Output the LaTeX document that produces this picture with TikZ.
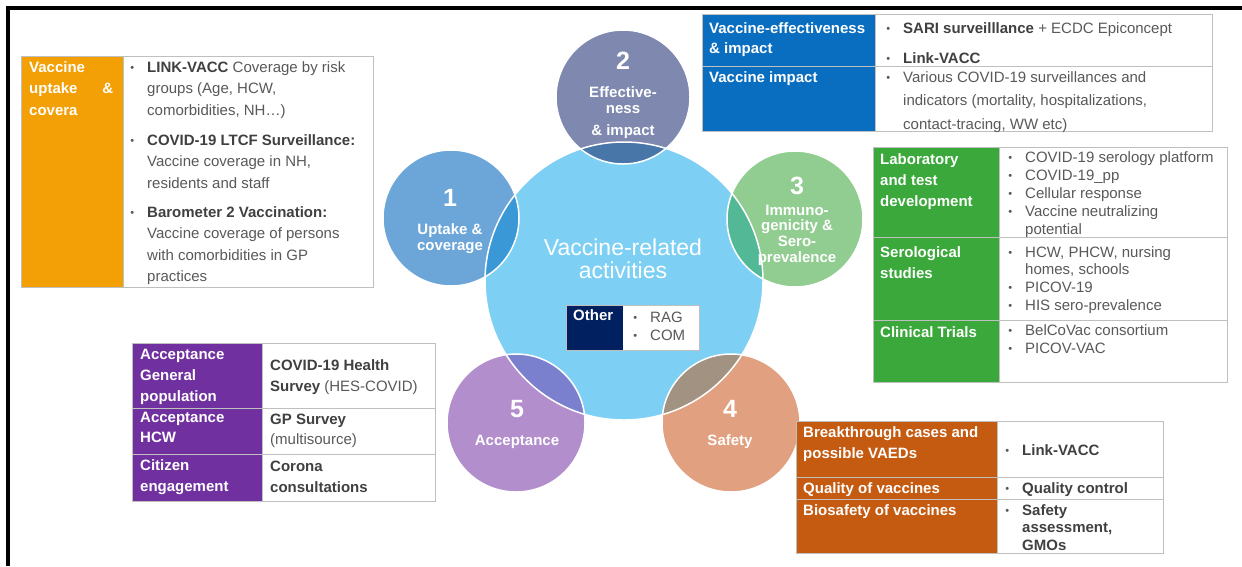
\documentclass[tikz,border=0pt]{standalone}
\usepackage{fontspec}
\setmainfont{Liberation Sans}
\definecolor{ucorange}{RGB}{242,160,5}
\definecolor{ucblue}{RGB}{10,110,192}
\definecolor{ucgreen}{RGB}{58,168,58}
\definecolor{ucpurple}{RGB}{112,48,160}
\definecolor{ucred}{RGB}{197,90,17}
\definecolor{ucnavy}{RGB}{0,32,96}
\definecolor{gridgray}{RGB}{191,191,191}
\definecolor{txtgray}{RGB}{89,89,89}
\definecolor{boldgray}{RGB}{64,64,64}
\definecolor{cmid}{RGB}{125,208,243}
\definecolor{cone}{RGB}{108,165,216}
\definecolor{conex}{RGB}{58,152,214}
\definecolor{ctwo}{RGB}{127,137,176}
\definecolor{ctwox}{RGB}{72,118,168}
\definecolor{cthree}{RGB}{145,205,145}
\definecolor{cthreex}{RGB}{82,184,150}
\definecolor{cfour}{RGB}{225,160,128}
\definecolor{cfourx}{RGB}{162,146,130}
\definecolor{cfive}{RGB}{178,142,205}
\definecolor{cfivex}{RGB}{122,128,205}
\newcommand\bul{\makebox[0pt][r]{\raisebox{1pt}{\fontsize{11}{11}\selectfont\textbullet}\hspace{13pt}}}
\newcommand\bt[1]{{\bfseries\color{boldgray}#1}}
\newcommand\fs[1]{\fontsize{15}{#1}\selectfont}
\newcommand\tstrut{\rule{0pt}{11pt}}
\begin{document}
\begin{tikzpicture}[x=1pt,y=-1pt,
  hd/.style={anchor=north west, inner sep=0pt, align=left, text=white, font=\fs{21}\bfseries, execute at begin node=\tstrut},
  bd/.style={anchor=north west, inner sep=0pt, align=left, text=txtgray, font=\fs{21.5}, execute at begin node=\tstrut},
  cl/.style={anchor=base, inner sep=0pt, text=white, font=\fs{16}\bfseries},
  num/.style={anchor=base, inner sep=0pt, text=white, font=\fontsize{25}{25}\selectfont\bfseries},
  gridline/.style={draw=gridgray, line width=1pt},
  ring/.style={draw=white, line width=1.5pt}]
\useasboundingbox (0,0) rectangle (1242,566);
\fill[white] (0,0) rectangle (1242,566);
% frame
\coordinate (fA) at (8,566);
\coordinate (fB) at (8,8);
\coordinate (fC) at (1242,8);
\draw[line width=3.5pt] (fA) -- (fB) -- (fC);

% ---------- circles ----------
\coordinate (cM) at (624,281);
\coordinate (c1) at (451,218);
\coordinate (c2) at (623,97);
\coordinate (c3) at (795,219);
\coordinate (c4) at (731,423);
\coordinate (c5) at (516,423);
\fill[cmid] (cM) circle[radius=139pt];
\fill[cone] (c1) circle[radius=68pt];
\fill[ctwo] (c2) circle[radius=67pt];
\fill[cthree] (c3) circle[radius=68pt];
\fill[cfour] (c4) circle[radius=69pt];
\fill[cfive] (c5) circle[radius=69pt];
\begin{scope}
  \clip (cM) circle[radius=139pt];
  \fill[conex] (c1) circle[radius=68pt];
  \fill[ctwox] (c2) circle[radius=67pt];
  \fill[cthreex] (c3) circle[radius=68pt];
  \fill[cfourx] (c4) circle[radius=69pt];
  \fill[cfivex] (c5) circle[radius=69pt];
\end{scope}
\draw[ring] (cM) circle[radius=139pt];
\draw[ring] (c1) circle[radius=68pt];
\draw[ring] (c2) circle[radius=67pt];
\draw[ring] (c3) circle[radius=68pt];
\draw[ring] (c4) circle[radius=69pt];
\draw[ring] (c5) circle[radius=69pt];

% circle texts
\node[anchor=base, inner sep=0pt, text=white, font=\fontsize{23}{23}\selectfont] (mt1) at (623,255) {Vaccine-related};
\node[anchor=base, inner sep=0pt, text=white, font=\fontsize{23}{23}\selectfont] (mt2) at (623,278) {activities};
\node[num] (n1) at (450,206) {1};
\node[cl] (t1a) at (450,234) {Uptake \&};
\node[cl] (t1b) at (450,250) {coverage};
\node[num] (n2) at (623,69) {2};
\node[cl] (t2a) at (623,97) {Effective-};
\node[cl] (t2b) at (623,113) {ness};
\node[cl] (t2c) at (623,135) {\& impact};
\node[num] (n3) at (797,194) {3};
\node[cl] (t3a) at (797,215) {Immuno-};
\node[cl] (t3b) at (797,230) {genicity \&};
\node[cl] (t3c) at (797,246) {Sero-};
\node[cl] (t3d) at (797,262) {prevalence};
\node[num] (n4) at (730,417) {4};
\node[cl] (t4a) at (730,445) {Safety};
\node[num] (n5) at (517,417) {5};
\node[cl] (t5a) at (517,445) {Acceptance};

% ---------- Other box ----------
\fill[ucnavy] (566,305) rectangle (623,350);
\fill[white] (623,305) rectangle (699,350);
\draw[gridline] (566,305) rectangle (699,350);
\node[hd] (oth) at (573,309) {Other};
\node[bd, font=\fs{18}] (othb) at (650,312) {\bul RAG\\\bul COM};

% ---------- Orange table ----------
\fill[white] (21,56) rectangle (373,287);
\fill[ucorange] (21,56) rectangle (123,287);
\draw[gridline] (21,56) rectangle (373,287);
\draw[gridline] (123,56) -- (123,287);
\node[hd, font=\fs{21.5}\bfseries] (orh) at (29,61) {Vaccine\\\makebox[84pt][l]{uptake\hfill\&}\\covera};
\node[bd] (orb) at (147,61) {\bul\bt{LINK-VACC} Coverage by risk\\groups (Age, HCW,\\comorbidities, NH…)\\[8.5pt]\bul\bt{COVID-19 LTCF Surveillance:}\\Vaccine coverage in NH,\\residents and staff\\[7.5pt]\bul\bt{Barometer 2 Vaccination:}\\Vaccine coverage of persons\\with comorbidities in GP\\practices};

% ---------- Blue table ----------
\fill[white] (702,14) rectangle (1212,131);
\fill[ucblue] (702,14) rectangle (875,131);
\draw[gridline] (702,14) rectangle (1212,131);
\draw[gridline] (702,66) -- (1212,66);
\draw[gridline] (875,14) -- (875,131);
\node[hd, font=\fs{20}\bfseries] (blh1) at (709,22) {Vaccine-effectiveness\\\& impact};
\node[hd] (blh2) at (709,71) {Vaccine impact};
\node[bd, font=\fs{30}] (blb1) at (903,22) {\bul\bt{SARI surveilllance} + ECDC Epiconcept\\\bul\bt{Link-VACC}};
\node[bd, font=\fs{23.5}] (blb2) at (903,71) {\bul Various COVID-19 surveillances and\\indicators (mortality, hospitalizations,\\contact-tracing, WW etc)};

% ---------- Green table ----------
\fill[white] (873,147) rectangle (1227,382);
\fill[ucgreen] (873,147) rectangle (999,382);
\draw[gridline] (873,147) rectangle (1227,382);
\draw[gridline] (873,237) -- (1227,237);
\draw[gridline] (873,320) -- (1227,320);
\draw[gridline] (999,147) -- (999,382);
\node[hd] (grh1) at (880,153) {Laboratory\\and test\\development};
\node[hd] (grh2) at (880,246) {Serological\\studies};
\node[hd] (grh3) at (880,326) {Clinical Trials};
\node[bd, font=\fs{18}] (grb1) at (1025,151) {\bul COVID-19 serology platform\\\bul COVID-19\_pp\\\bul Cellular response\\\bul Vaccine neutralizing\\potential};
\node[bd, font=\fs{17.7}] (grb2) at (1025,246) {\bul HCW, PHCW, nursing\\homes, schools\\\bul PICOV-19\\\bul HIS sero-prevalence};
\node[bd, font=\fs{18}] (grb3) at (1025,324) {\bul BelCoVac consortium\\\bul PICOV-VAC};

% ---------- Purple table ----------
\fill[white] (132,343) rectangle (435,501);
\fill[ucpurple] (132,343) rectangle (262,501);
\draw[gridline] (132,343) rectangle (435,501);
\draw[gridline] (132,408) -- (435,408);
\draw[gridline] (132,454) -- (435,454);
\draw[gridline] (262,343) -- (262,501);
\node[hd] (puh1) at (140,349) {Acceptance\\General\\population};
\node[hd, font=\fs{20}\bfseries] (puh2) at (140,412) {Acceptance\\HCW};
\node[hd] (puh3) at (140,459) {Citizen\\engagement};
\node[bd, font=\fs{21}] (pub1) at (270,359) {\bt{COVID-19 Health}\\\bt{Survey} (HES-COVID)};
\node[bd, font=\fs{20}] (pub2) at (270,414) {\bt{GP Survey}\\(multisource)};
\node[bd, font=\fs{21}] (pub3) at (270,461) {\bt{Corona}\\\bt{consultations}};

% ---------- Red table ----------
\fill[white] (796,421) rectangle (1163,553);
\fill[ucred] (796,421) rectangle (997,553);
\draw[gridline] (796,421) rectangle (1163,553);
\draw[gridline] (796,477) -- (1163,477);
\draw[gridline] (796,499) -- (1163,499);
\draw[gridline] (997,421) -- (997,553);
\node[hd] (rdh1) at (803,426) {Breakthrough cases and\\possible VAEDs};
\node[hd] (rdh2) at (803,482) {Quality of vaccines};
\node[hd] (rdh3) at (803,504) {Biosafety of vaccines};
\node[bd] (rdb1) at (1022,444) {\bul\bt{Link-VACC}};
\node[bd] (rdb2) at (1022,482) {\bul\bt{Quality control}};
\node[bd, font=\fs{17.5}] (rdb3) at (1022,504) {\bul\bt{Safety}\\\bt{assessment,}\\\bt{GMOs}};
\end{tikzpicture}
\end{document}
